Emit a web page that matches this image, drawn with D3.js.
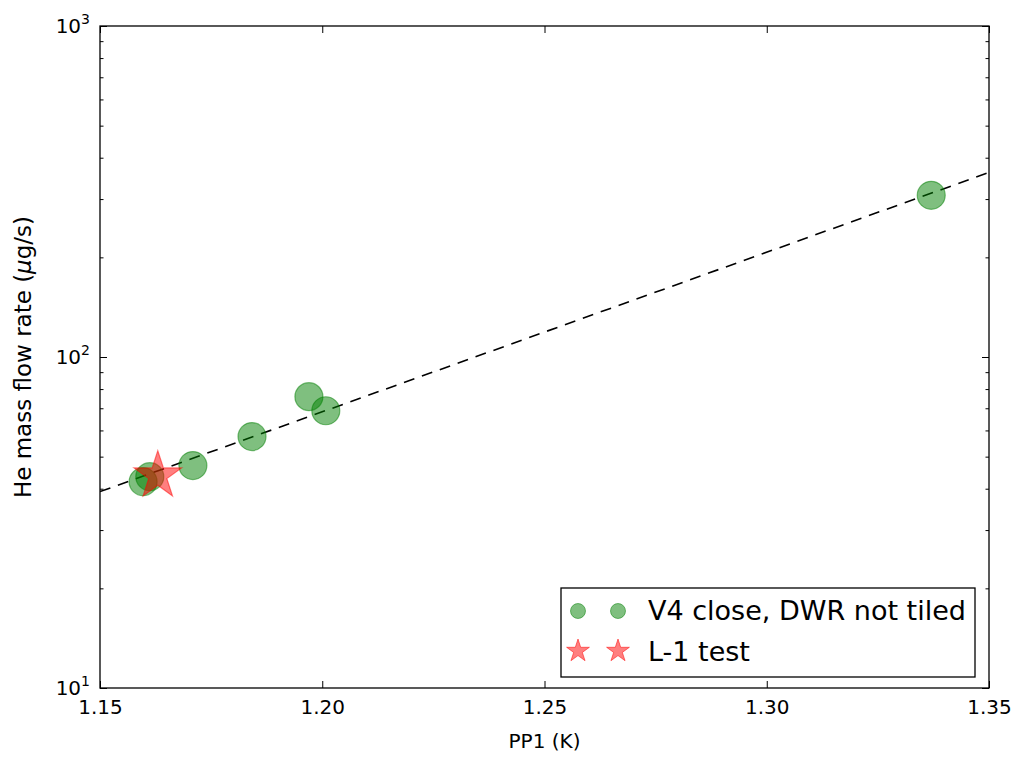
<!DOCTYPE html>
<html>
<head>
<meta charset="utf-8">
<script src="https://cdn.jsdelivr.net/npm/d3@7"></script>
<style>
  html, body { margin: 0; padding: 0; background: #fff; }
  text { font-family: "DejaVu Sans", sans-serif; fill: #000; }
</style>
</head>
<body>
<svg id="chart" width="1015" height="757"></svg>
<script>
// ---- data ----
const pp1 = [1.1597, 1.1612, 1.1709, 1.1842, 1.1970, 1.2008, 1.3370];
const flow = [42.0, 43.5, 47.0, 57.5, 75.9, 68.8, 308];
const starPP1 = [1.1630];
const starFlow = [43.8];
const fitX = [1.15, 1.35];
const fitY = [39.2, 361];
const xTicks = [1.15, 1.20, 1.25, 1.30, 1.35];
const yTicks = [10, 100, 1000];
const yTickExp = ["1", "2", "3"];
const legendLabels = ["V4 close, DWR not tiled", "L-1 test"];

// ---- layout ----
const L = 100, R = 989, T = 26, B = 688;
const svg = d3.select("#chart");
const x = d3.scaleLinear().domain([1.15, 1.35]).range([L, R]);
const y = d3.scaleLog().domain([10, 1000]).range([B, T]);

const g = svg.append("g");

svg.append("defs").append("clipPath").attr("id", "clip")
  .append("rect").attr("x", L).attr("y", T).attr("width", R - L).attr("height", B - T);

const minor = [];
for (let d = 10; d < 1000; d *= 10) for (let k = 2; k <= 9; k++) minor.push(d * k);

const xb = d3.axisBottom(x).tickValues(xTicks).tickFormat(d3.format(".2f")).tickSizeInner(-7).tickSizeOuter(0).tickPadding(12);
const xt = d3.axisTop(x).tickValues(xTicks).tickFormat("").tickSizeInner(-7).tickSizeOuter(0);
const yl = d3.axisLeft(y).tickValues(yTicks).tickFormat("").tickSizeInner(-7).tickSizeOuter(0);
const yr = d3.axisRight(y).tickValues(yTicks).tickFormat("").tickSizeInner(-7).tickSizeOuter(0);
const ylm = d3.axisLeft(y).tickValues(minor).tickFormat("").tickSizeInner(-3.5).tickSizeOuter(0);
const yrm = d3.axisRight(y).tickValues(minor).tickFormat("").tickSizeInner(-3.5).tickSizeOuter(0);

function styleAxis(sel) {
  sel.select(".domain").remove();
  sel.selectAll(".tick line").attr("stroke", "#000").attr("stroke-width", 1);
  sel.selectAll(".tick text").style("font-size", "20px").style("font-family", "DejaVu Sans");
}
g.append("g").attr("transform", `translate(0,${B})`).call(xb).call(styleAxis);
g.append("g").attr("transform", `translate(0,${T})`).call(xt).call(styleAxis);
g.append("g").attr("transform", `translate(${L},0)`).call(yl).call(styleAxis);
g.append("g").attr("transform", `translate(${R},0)`).call(yr).call(styleAxis);
g.append("g").attr("transform", `translate(${L},0)`).call(ylm).call(styleAxis);
g.append("g").attr("transform", `translate(${R},0)`).call(yrm).call(styleAxis);

yTicks.forEach((v, i) => {
  const t = g.append("text").attr("x", L - 10).attr("y", y(v) + 7)
    .attr("text-anchor", "end").style("font-size", "20px");
  t.append("tspan").text("10");
  t.append("tspan").attr("dy", -9).style("font-size", "14px").text(yTickExp[i]);
});

const plot = g.append("g").attr("clip-path", "url(#clip)");
plot.append("path")
  .datum(fitX.map((d, i) => [d, fitY[i]]))
  .attr("d", d3.line().x(d => x(d[0])).y(d => y(d[1])))
  .attr("fill", "none").attr("stroke", "#000").attr("stroke-width", 1.6)
  .attr("stroke-dasharray", "11,8");

const greenFill = "#008000";
plot.selectAll("circle.pt").data(pp1.map((d, i) => [d, flow[i]])).enter()
  .append("circle").attr("class", "pt")
  .attr("cx", d => x(d[0])).attr("cy", d => y(d[1])).attr("r", 14)
  .attr("fill", greenFill).attr("fill-opacity", 0.5)
  .attr("stroke", greenFill).attr("stroke-opacity", 0.5).attr("stroke-width", 1.2);

const ka = 0.8908130915292852;
const starBig = d3.symbol().type(d3.symbolStar).size(25 * 25 / ka);
plot.selectAll("path.star").data(starPP1.map((d, i) => [d, starFlow[i]])).enter()
  .append("path").attr("class", "star")
  .attr("d", starBig)
  .attr("transform", d => `translate(${x(d[0])},${y(d[1])})`)
  .attr("fill", "#ff0000").attr("fill-opacity", 0.5)
  .attr("stroke", "#ff0000").attr("stroke-opacity", 0.5).attr("stroke-width", 1.2);

g.append("rect").attr("x", L).attr("y", T).attr("width", R - L).attr("height", B - T)
  .attr("fill", "none").attr("stroke", "#000").attr("stroke-width", 1.3);

g.append("text").attr("x", (L + R) / 2).attr("y", 748).attr("text-anchor", "middle")
  .style("font-size", "20px").text("PP1 (K)");
const yl2 = g.append("text").attr("transform", `translate(31,${(T + B) / 2}) rotate(-90)`)
  .attr("text-anchor", "middle").style("font-size", "23px");
yl2.append("tspan").text("He mass flow rate (");
yl2.append("tspan").style("font-style", "italic").text("μ");
yl2.append("tspan").text("g/s)");

const lg = g.append("g");
lg.append("rect").attr("x", 561).attr("y", 588).attr("width", 414).attr("height", 89)
  .attr("fill", "#fff").attr("stroke", "#000").attr("stroke-width", 1.3);
const legX = [578, 618];
legX.forEach(cx => {
  lg.append("circle").attr("cx", cx).attr("cy", 611).attr("r", 7.5)
    .attr("fill", greenFill).attr("fill-opacity", 0.5)
    .attr("stroke", greenFill).attr("stroke-opacity", 0.5).attr("stroke-width", 1);
  lg.append("path").attr("d", d3.symbol().type(d3.symbolStar).size(12 * 12 / ka))
    .attr("transform", `translate(${cx},651)`)
    .attr("fill", "#ff0000").attr("fill-opacity", 0.5)
    .attr("stroke", "#ff0000").attr("stroke-opacity", 0.5).attr("stroke-width", 1);
});
lg.append("text").attr("x", 648).attr("y", 620).style("font-size", "27px").text(legendLabels[0]);
lg.append("text").attr("x", 648).attr("y", 661).style("font-size", "27px").text(legendLabels[1]);
</script>
</body>
</html>
